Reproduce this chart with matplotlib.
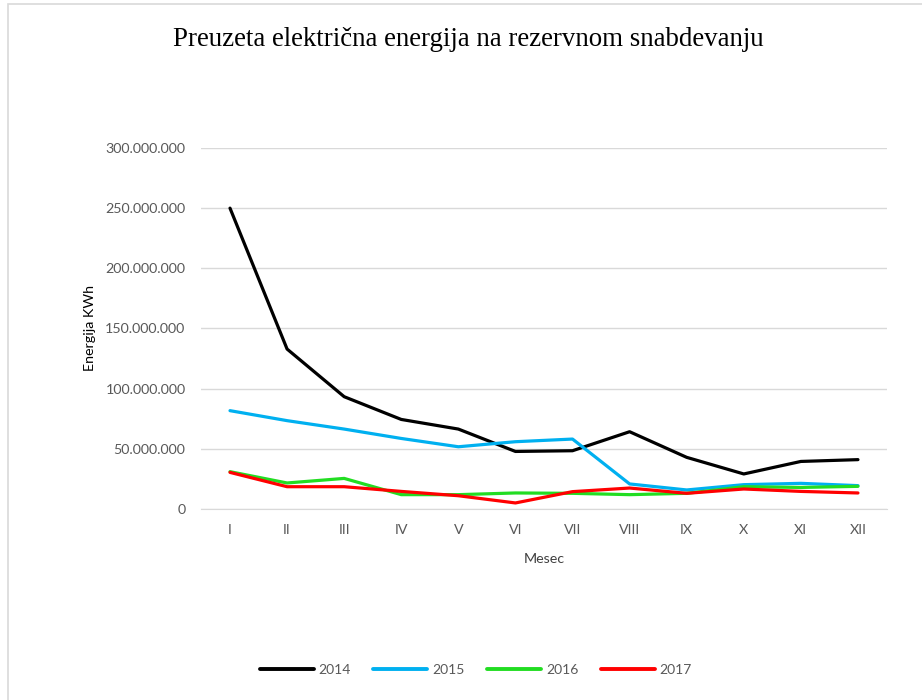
import numpy as np
import matplotlib
matplotlib.use('Agg')
import matplotlib.pyplot as plt
from matplotlib.ticker import FuncFormatter
from matplotlib.patches import Rectangle

# podaci (procena sa slike), u milionima KWh
meseci = ['I', 'II', 'III', 'IV', 'V', 'VI', 'VII', 'VIII', 'IX', 'X', 'XI', 'XII']
god2014 = [250.0, 132.9, 93.3, 74.4, 66.4, 47.8, 48.4, 64.2, 42.9, 29.1, 39.5, 41.0]
god2015 = [81.7, 73.4, 66.4, 58.6, 51.7, 55.9, 58.1, 20.8, 15.8, 20.2, 21.3, 19.4]
god2016 = [31.0, 21.6, 25.4, 11.9, 11.9, 13.3, 13.0, 11.9, 13.0, 18.5, 17.9, 18.8]
god2017 = [30.4, 18.5, 18.5, 14.6, 11.0, 5.0, 14.4, 17.4, 13.0, 16.6, 14.6, 13.3]
godine = ['2014', '2015', '2016', '2017']
boje = ['#000000', '#00b0f0', '#22dd22', '#ff0000']

fig = plt.figure(figsize=(9.22, 7), dpi=100)
# okvir oko grafika
fig.patches.append(Rectangle((8 / 922, -0.1), 1.2, 1.1 - 4 / 700, transform=fig.transFigure,
                             fill=False, edgecolor='#d9d9d9', lw=1.2))

ax = fig.add_axes([0.2185, 0.2729, 0.743, 0.5157])
x = np.arange(len(meseci))
for vals, c, g in zip([god2014, god2015, god2016, god2017], boje, godine):
    ax.plot(x, np.array(vals) * 1e6, color=c, lw=2.3, label=g, solid_capstyle='round')

ax.set_xlim(-0.5, len(meseci) - 0.5)
ax.set_ylim(0, 300e6)
ax.set_yticks(np.arange(0, 300e6 + 1, 50e6))
ax.yaxis.set_major_formatter(FuncFormatter(lambda v, p: f'{int(v):,}'.replace(',', '.')))
ax.set_xticks(x)
ax.set_xticklabels(meseci)
ax.grid(axis='y', color='#d9d9d9', lw=1)
ax.set_axisbelow(True)
for s in ['top', 'right', 'left']:
    ax.spines[s].set_visible(False)
ax.spines['bottom'].set_color('#d9d9d9')
ax.tick_params(length=0, colors='#595959', labelsize=10.3)
ax.tick_params(axis='y', pad=11.5)
ax.tick_params(axis='x', pad=11)
for lbl in ax.get_xticklabels() + ax.get_yticklabels():
    lbl.set_fontfamily('Lato')

ax.set_ylabel('Energija KWh', fontsize=10.3, family='Lato', labelpad=7)
ax.set_xlabel('Mesec', fontsize=10.3, family='Lato', color='#404040', labelpad=12)

fig.text(0.508, 0.943, 'Preuzeta električna energija na rezervnom snabdevanju',
         ha='center', va='center', fontsize=19.4, family='Liberation Serif')

leg = fig.legend(loc='center', bbox_to_anchor=(0.516, 0.043), ncol=4, frameon=False,
                 prop={'family': 'Lato', 'size': 10}, handlelength=3.9, columnspacing=1.6,
                 handletextpad=0.35)
for line in leg.get_lines():
    line.set_linewidth(2.8)
for t in leg.get_texts():
    t.set_color('#595959')

fig.savefig('out.png', dpi=100)
